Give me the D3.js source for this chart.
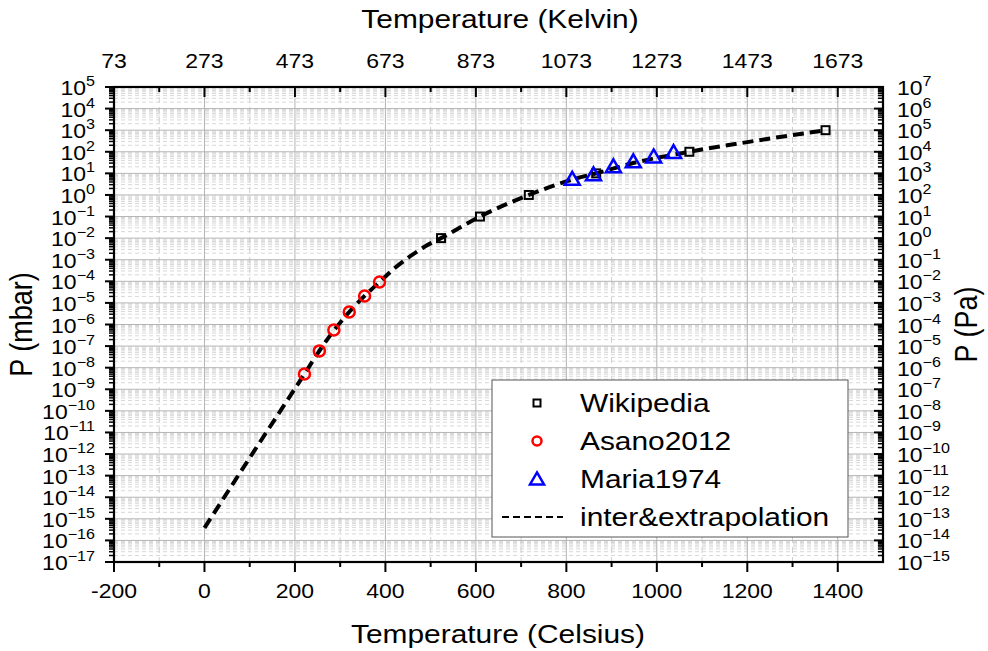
<!DOCTYPE html>
<html>
<head>
<meta charset="utf-8">
<script src="https://cdn.jsdelivr.net/npm/d3@7"></script>
<style>
  html, body { margin: 0; padding: 0; background: #fff; }
  svg { display: block; font-family: "Liberation Sans", Arial, sans-serif; }
</style>
</head>
<body>
<svg id="chart" width="988" height="651"></svg>
<script>
// Vapour pressure data (temperature in °C, pressure in mbar)
const wikiC  = [523, 609, 717, 866, 1072, 1373];
const wikiP  = [1e-2, 1e-1, 1, 10, 100, 1000];
const asanoC = [221, 254, 286, 320, 354, 387];
const asanoP = [5.1e-9, 6.0e-8, 5.6e-7, 3.8e-6, 2.1e-5, 9.3e-5];
const mariaC = [813, 860, 904, 948, 993, 1037];
const mariaP = [5.5, 8.9, 20.9, 35.5, 60, 95.5];
// Interpolated / extrapolated curve
const fitC = [0, 110, 221, 254, 287, 320, 354, 387, 420, 455, 490, 523, 609, 717, 815, 866, 948, 1072, 1200, 1373];
const fitP = [3.8e-16, 1.4e-12, 5.1e-9, 6.0e-8, 5.6e-7, 3.8e-6, 2.1e-5, 9.3e-5, 4.0e-4, 1.45e-3, 4.4e-3, 1e-2, 1e-1, 1, 5.3, 10, 30, 100, 280, 1000];

// Axis ticks
const celsiusTicks = [-200, 0, 200, 400, 600, 800, 1000, 1200, 1400];
const celsiusMinor = [-100, 100, 300, 500, 700, 900, 1100, 1300];
const kelvinLabels = ["73", "273", "473", "673", "873", "1073", "1273", "1473", "1673"];
const mbarExponents = d3.range(-17, 6);            // 10^-17 .. 10^5
const paExponents = mbarExponents.map(e => e + 2); // 1 mbar = 100 Pa

const legendNames = ["Wikipedia", "Asano2012", "Maria1974", "inter&extrapolation"];

const svg = d3.select("#chart");
const L = 114, R = 883, T = 87, B = 562;
const SX = 1.15; // horizontal text stretch

const x = d3.scaleLinear().domain([-200, 1500]).range([L, R]);
const y = d3.scaleLog().domain([1e-17, 1e5]).range([B, T]);

const at = (px, py) => `translate(${px},${py}) scale(${SX},1)`;

// ---------- grid ----------
const grid = svg.append("g");
const minorDecades = [];
mbarExponents.slice(0, -1).forEach(e => {
  for (let k = 2; k <= 9; k++) minorDecades.push(k * Math.pow(10, e));
});
grid.selectAll("line.hmin").data(minorDecades).join("line")
  .attr("x1", L).attr("x2", R)
  .attr("y1", d => y(d)).attr("y2", d => y(d))
  .attr("stroke", "#d8d8d8").attr("stroke-width", 1)
  .attr("stroke-dasharray", "4,3");
grid.selectAll("line.vmin").data(celsiusMinor).join("line")
  .attr("x1", d => x(d)).attr("x2", d => x(d))
  .attr("y1", T).attr("y2", B)
  .attr("stroke", "#d0d0d0").attr("stroke-width", 1)
  .attr("stroke-dasharray", "6,4");
grid.selectAll("line.hmaj").data(mbarExponents.slice(1, -1)).join("line")
  .attr("x1", L).attr("x2", R)
  .attr("y1", d => y(Math.pow(10, d))).attr("y2", d => y(Math.pow(10, d)))
  .attr("stroke", "#b4b4b4").attr("stroke-width", 1);
grid.selectAll("line.vmaj").data(celsiusTicks.slice(1)).join("line")
  .attr("x1", d => x(d)).attr("x2", d => x(d))
  .attr("y1", T).attr("y2", B)
  .attr("stroke", "#b4b4b4").attr("stroke-width", 1);

// ---------- fitted curve ----------
const fitData = fitC.map((c, i) => [c, fitP[i]]);
svg.append("path")
  .datum(fitData)
  .attr("fill", "none")
  .attr("stroke", "#000")
  .attr("stroke-width", 4)
  .attr("stroke-dasharray", "11,6")
  .attr("d", d3.line().x(d => x(d[0])).y(d => y(d[1])).curve(d3.curveMonotoneX));

// ---------- markers ----------
function triPath(w, h) {
  return `M0,${-h * 0.55}L${w / 2},${h * 0.45}L${-w / 2},${h * 0.45}Z`;
}
const sq = 8;
svg.append("g").selectAll("rect").data(wikiC.map((c, i) => [c, wikiP[i]])).join("rect")
  .attr("x", d => x(d[0]) - sq / 2).attr("y", d => y(d[1]) - sq / 2)
  .attr("width", sq).attr("height", sq)
  .attr("fill", "none").attr("stroke", "#000").attr("stroke-width", 2);
svg.append("g").selectAll("circle").data(asanoC.map((c, i) => [c, asanoP[i]])).join("circle")
  .attr("cx", d => x(d[0])).attr("cy", d => y(d[1])).attr("r", 5.5)
  .attr("fill", "none").attr("stroke", "#ff0000").attr("stroke-width", 2.5);
svg.append("g").selectAll("path").data(mariaC.map((c, i) => [c, mariaP[i]])).join("path")
  .attr("transform", d => `translate(${x(d[0])},${y(d[1])})`)
  .attr("d", triPath(15, 13))
  .attr("fill", "none").attr("stroke", "#0000ff").attr("stroke-width", 2.5)
  .attr("stroke-linejoin", "miter");

// ---------- axes frame and ticks ----------
const axes = svg.append("g").attr("stroke", "#000");
// left (outward)
axes.selectAll("line.lmaj").data(mbarExponents).join("line")
  .attr("x1", L - 9).attr("x2", L).attr("y1", d => y(Math.pow(10, d))).attr("y2", d => y(Math.pow(10, d)))
  .attr("stroke-width", 2);
axes.selectAll("line.lmin").data(minorDecades).join("line")
  .attr("x1", L - 5).attr("x2", L).attr("y1", d => y(d)).attr("y2", d => y(d))
  .attr("stroke-width", 1.5);
// right (inward)
axes.selectAll("line.rmaj").data(mbarExponents).join("line")
  .attr("x1", R - 9).attr("x2", R).attr("y1", d => y(Math.pow(10, d))).attr("y2", d => y(Math.pow(10, d)))
  .attr("stroke-width", 2);
axes.selectAll("line.rmin").data(minorDecades).join("line")
  .attr("x1", R - 5).attr("x2", R).attr("y1", d => y(d)).attr("y2", d => y(d))
  .attr("stroke-width", 1.5);
// bottom (outward)
axes.selectAll("line.bmaj").data(celsiusTicks).join("line")
  .attr("x1", d => x(d)).attr("x2", d => x(d)).attr("y1", B).attr("y2", B + 10)
  .attr("stroke-width", 2);
axes.selectAll("line.bmin").data(celsiusMinor).join("line")
  .attr("x1", d => x(d)).attr("x2", d => x(d)).attr("y1", B).attr("y2", B + 5)
  .attr("stroke-width", 2);
// top (inward)
axes.selectAll("line.tmaj").data(celsiusTicks).join("line")
  .attr("x1", d => x(d)).attr("x2", d => x(d)).attr("y1", T).attr("y2", T + 10)
  .attr("stroke-width", 2);
axes.selectAll("line.tmin").data(celsiusMinor).join("line")
  .attr("x1", d => x(d)).attr("x2", d => x(d)).attr("y1", T).attr("y2", T + 5)
  .attr("stroke-width", 2);
// frame
svg.append("rect").attr("x", L).attr("y", T).attr("width", R - L).attr("height", B - T)
  .attr("fill", "none").attr("stroke", "#000").attr("stroke-width", 2.2);

// ---------- tick labels ----------
function powLabel(sel, anchor) {
  sel.attr("text-anchor", anchor).attr("font-size", 20).attr("fill", "#000")
    .each(function (e) {
      const t = d3.select(this);
      t.append("tspan").text("10");
      t.append("tspan").attr("dy", -9).attr("font-size", 14)
        .text(e < 0 ? "\u2212" + Math.abs(e) : String(e));
    });
}
svg.append("g").selectAll("text").data(mbarExponents).join("text")
  .attr("transform", d => at(L - 19, y(Math.pow(10, d)) + 8))
  .call(powLabel, "end");
svg.append("g").selectAll("text").data(paExponents).join("text")
  .attr("transform", (d, i) => at(R + 14, y(Math.pow(10, mbarExponents[i])) + 8))
  .call(powLabel, "start");

svg.append("g").selectAll("text").data(celsiusTicks).join("text")
  .attr("transform", d => at(x(d), 598))
  .attr("text-anchor", "middle").attr("font-size", 20)
  .text(d => d);
svg.append("g").selectAll("text").data(celsiusTicks).join("text")
  .attr("transform", d => at(x(d), 68))
  .attr("text-anchor", "middle").attr("font-size", 20)
  .text((d, i) => kelvinLabels[i]);

// ---------- axis titles ----------
svg.append("text").attr("transform", at(498, 643))
  .attr("text-anchor", "middle").attr("font-size", 26).text("Temperature (Celsius)");
svg.append("text").attr("transform", at(500, 28))
  .attr("text-anchor", "middle").attr("font-size", 26).text("Temperature (Kelvin)");
svg.append("text").attr("transform", `translate(32,${(T + B) / 2}) rotate(-90) scale(1,${SX})`)
  .attr("text-anchor", "middle").attr("font-size", 27).text("P (mbar)");
svg.append("text").attr("transform", `translate(977,${(T + B) / 2}) rotate(-90) scale(1,${SX})`)
  .attr("text-anchor", "middle").attr("font-size", 27).text("P (Pa)");

// ---------- legend ----------
const lg = svg.append("g");
lg.append("rect").attr("x", 492).attr("y", 380).attr("width", 356).attr("height", 157)
  .attr("fill", "#fff").attr("stroke", "#555").attr("stroke-width", 1);
const rowY = [403, 441, 479, 517];
lg.selectAll("text").data(legendNames).join("text")
  .attr("transform", (d, i) => at(580, rowY[i] + 9))
  .attr("font-size", 26).text(d => d);
const mx = 537;
lg.append("rect").attr("x", mx - 3.5).attr("y", rowY[0] - 3.5).attr("width", 7).attr("height", 7)
  .attr("fill", "none").attr("stroke", "#000").attr("stroke-width", 2);
lg.append("circle").attr("cx", mx).attr("cy", rowY[1]).attr("r", 4.5)
  .attr("fill", "none").attr("stroke", "#ff0000").attr("stroke-width", 2.5);
lg.append("path").attr("transform", `translate(${mx},${rowY[2]})`).attr("d", triPath(14, 12))
  .attr("fill", "none").attr("stroke", "#0000ff").attr("stroke-width", 2.5);
lg.append("line").attr("x1", 502).attr("x2", 563).attr("y1", rowY[3]).attr("y2", rowY[3])
  .attr("stroke", "#000").attr("stroke-width", 2.2).attr("stroke-dasharray", "7,4");
</script>
</body>
</html>
